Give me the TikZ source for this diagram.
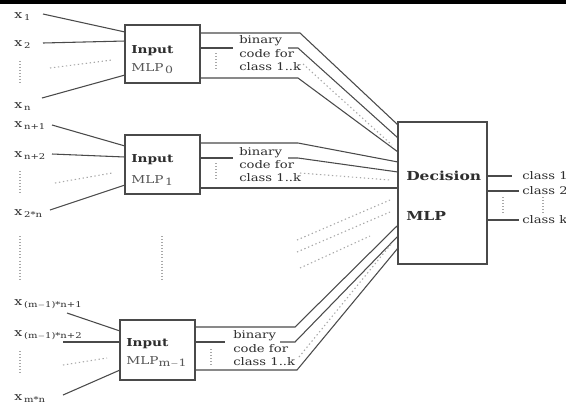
\documentclass[tikz,border=0pt]{standalone}
\usepackage{fontspec}
\setmainfont{DejaVu Serif}[FakeStretch=1.25]
\usetikzlibrary{calc}
\definecolor{ink}{HTML}{4A4A4A}
\definecolor{txt}{HTML}{2E2E2E}
\definecolor{faint}{HTML}{A8A8A8}
\newcommand{\xsub}[1]{x\,\raisebox{-0.5ex}{\fontsize{6}{6}\selectfont #1}}
\newcommand{\mlpsub}[1]{MLP\raisebox{-0.5ex}{\fontsize{7.5}{7.5}\selectfont\,#1}}

\begin{document}
\begin{tikzpicture}[x=0.75pt,y=-0.75pt,
  wire/.style={draw=ink,line width=0.8pt},
  faintwire/.style={draw=faint,line width=0.8pt,dash pattern=on 1pt off 2pt},
  vdots/.style={draw=faint,line width=2.2pt,dash pattern=on 0.7pt off 1.6pt},
  mlpbox/.style={draw=ink,line width=0.9pt,rectangle,inner sep=0pt,outer sep=0pt},
  xlabel/.style={text=txt,inner sep=0pt,anchor=base west,font=\fontsize{8.5}{10}\selectfont},
  boxtitle/.style={text=txt,inner sep=0pt,anchor=base west,font=\fontsize{8.2}{10}\selectfont\bfseries},
  boxname/.style={text=txt!80,inner sep=0pt,anchor=base west,font=\fontsize{8.2}{10}\selectfont},
  codetext/.style={text=txt,inner sep=0pt,anchor=base west,font=\fontsize{7.9}{10}\selectfont},
  decitext/.style={text=txt,inner sep=0pt,anchor=base west,font=\fontsize{9.3}{10}\selectfont\bfseries}
]
% canvas
\fill[white] (0,0) rectangle (566,405);
\fill[black] (0,0) rectangle (566,4);
\useasboundingbox (0,0) rectangle (566,405);

% ---------- boxes ----------
\node[mlpbox,minimum width=56.25pt,minimum height=43.5pt]  (in0) at (162.5,54) {};
\node[mlpbox,minimum width=56.25pt,minimum height=44.25pt] (in1) at (162.5,164.5) {};
\node[mlpbox,minimum width=56.25pt,minimum height=45pt]    (in2) at (157.5,350) {};
\node[mlpbox,minimum width=66.75pt,minimum height=106.5pt] (dec) at (442.5,193) {};

\node[boxtitle] (t0) at (131,53) {Input};
\node[boxname]  (n0) at (131,71) {\mlpsub{0}};
\node[boxtitle] (t1) at (131,162) {Input};
\node[boxname]  (n1) at (131,183) {\mlpsub{1}};
\node[boxtitle] (t2) at (126,346) {Input};
\node[boxname]  (n2) at (126,364) {MLP\raisebox{-0.5ex}{\fontsize{7.5}{7.5}\selectfont m$-$1}};

\node[decitext] (dt) at (406,180) {Decision};
\node[decitext] (dm) at (406,220) {MLP};

% ---------- input labels ----------
\node[xlabel] (x1)  at (14,18)  {\xsub{1}};
\node[xlabel] (x2)  at (14,46)  {\xsub{2}};
\node[xlabel] (xn)  at (14,108) {\xsub{n}};
\node[xlabel] (xn1) at (14,127) {\xsub{n+1}};
\node[xlabel] (xn2) at (14,157) {\xsub{n+2}};
\node[xlabel] (x2n) at (14,215) {\xsub{2*n}};
\node[xlabel] (xm1) at (14,305) {\xsub{(m$-$1)*n+1}};
\node[xlabel] (xm2) at (14,336) {\xsub{(m$-$1)*n+2}};
\node[xlabel] (xmn) at (14,400) {\xsub{m*n}};

% free ends of the input wires
\coordinate (a1) at (43,14);   \coordinate (a2) at (43,43);
\coordinate (ad) at (50,68);   \coordinate (an) at (42,98);
\coordinate (b1) at (52,125);  \coordinate (b2) at (52,154);
\coordinate (bd) at (55,183);  \coordinate (bn) at (50,210);
\coordinate (c1) at (67,313);  \coordinate (c2) at (63,342);
\coordinate (cd) at (63,365);  \coordinate (cn) at (63,395);

\draw[wire] (a1) -- ($(in0.north west)+(0,7)$);
\draw[wire] (a2) -- ($(in0.north west)+(0,16)$);
\draw[faintwire] (ad) -- ($(in0.north west)+(-13,35)$);
\draw[wire] (an) -- ($(in0.north west)+(0,50)$);

\draw[wire] (b1) -- ($(in1.north west)+(0,11)$);
\draw[wire] (b2) -- ($(in1.north west)+(0,22)$);
\draw[faintwire] (bd) -- ($(in1.north west)+(-13,38)$);
\draw[wire] (bn) -- ($(in1.north west)+(0,50)$);

\draw[wire] (c1) -- ($(in2.north west)+(0,11)$);
\draw[wire] (c2) -- ($(in2.north west)+(0,22)$);
\draw[faintwire] (cd) -- ($(in2.north west)+(-13,38)$);
\draw[wire] (cn) -- ($(in2.north west)+(0,50)$);

% vertical ellipses
\draw[vdots] (20,61) -- (20,83);
\draw[vdots] (20,171) -- (20,193);
\draw[vdots] (20,351) -- (20,375);
\draw[vdots] (20,236) -- (20,281);
\draw[vdots] (162,236) -- (162,281);

% ---------- binary code outputs ----------
\node[codetext] (p0a) at (239,43) {binary};
\node[codetext] (p0b) at (239,57) {code for};
\node[codetext] (p0c) at (239,70) {class 1..k};
\node[codetext] (p1a) at (239,155) {binary};
\node[codetext] (p1b) at (239,168) {code for};
\node[codetext] (p1c) at (239,181) {class 1..k};
\node[codetext] (p2a) at (233,338) {binary};
\node[codetext] (p2b) at (233,352) {code for};
\node[codetext] (p2c) at (233,365) {class 1..k};

\draw[vdots] (216,53) -- (216,71);
\draw[vdots] (216,163) -- (216,181);
\draw[vdots] (211,349) -- (211,366);

% MLP 0 -> decision
\draw[wire] ($(in0.north west)+(75,8)$) -- (300,33) -- ($(dec.north west)+(0,3)$);
\draw[wire] ($(in0.north west)+(75,23)$) -- (233,48);
\draw[wire] (288,48) -- (298,48) -- ($(dec.north west)+(0,16)$);
\draw[faintwire] (303,64) -- ($(dec.north west)+(-6,23)$);
\draw[wire] ($(in0.north west)+(75,53)$) -- (298,78) -- ($(dec.north west)+(0,30)$);

% MLP 1 -> decision
\draw[wire] ($(in1.north west)+(75,8)$) -- (298,143) -- ($(dec.north west)+(0,40)$);
\draw[wire] ($(in1.north west)+(75,23)$) -- (233,158);
\draw[wire] (288,158) -- (298,158) -- ($(dec.north west)+(0,50)$);
\draw[faintwire] (300,173) -- ($(dec.north west)+(-8,58)$);
\draw[wire] ($(in1.north west)+(75,53)$) -- ($(dec.north west)+(0,66)$);

% remaining MLPs (elided)
\draw[faintwire] (297,240) -- ($(dec.north west)+(-8,78)$);
\draw[faintwire] (297,252) -- ($(dec.north west)+(-8,90)$);
\draw[faintwire] (300,268) -- ($(dec.north west)+(-28,114)$);

% MLP m-1 -> decision
\draw[wire] ($(in2.north west)+(75,7)$) -- (295,327) -- ($(dec.north west)+(0,103)$);
\draw[wire] ($(in2.north west)+(75,22)$) -- (225,342);
\draw[wire] (280,342) -- (295,342) -- ($(dec.north west)+(0,114)$);
\draw[faintwire] (299,357) -- ($(dec.north west)+(-6,121)$);
\draw[wire] ($(in2.north west)+(75,50)$) -- (297,370) -- ($(dec.north west)+(0,126)$);

% ---------- decision outputs ----------
\node[codetext] (k1) at (522,179) {class 1};
\node[codetext] (k2) at (522,194) {class 2};
\node[codetext] (kk) at (522,223) {class k};
\draw[wire] ($(dec.north east)+(0,54)$) -- ($(k1.base west)+(-10,-3)$);
\draw[wire] ($(dec.north east)+(0,69)$) -- ($(k2.base west)+(-3,-3)$);
\draw[wire] ($(dec.north east)+(0,98)$) -- ($(kk.base west)+(-3,-3)$);
\draw[vdots] (503,197) -- (503,213);
\draw[vdots] (543,197) -- (543,213);
\end{tikzpicture}
\end{document}
